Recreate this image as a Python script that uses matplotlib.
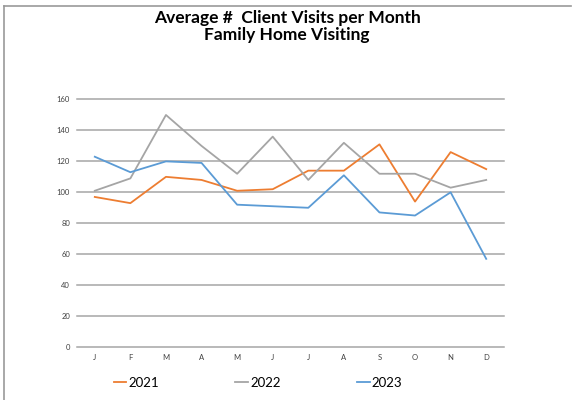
import matplotlib
matplotlib.use("Agg")
import matplotlib.pyplot as plt
from matplotlib.lines import Line2D

months = ["J", "F", "M", "A", "M", "J", "J", "A", "S", "O", "N", "D"]
visits_2021 = [97, 93, 110, 108, 101, 102, 114, 114, 131, 94, 126, 115]
visits_2022 = [101, 109, 150, 130, 112, 136, 108, 132, 112, 112, 103, 108]
visits_2023 = [123, 113, 120, 119, 92, 91, 90, 111, 87, 85, 100, 57]
y_ticks = [0, 20, 40, 60, 80, 100, 120, 140, 160]

plt.rcParams['font.family'] = ['Lato', 'DejaVu Sans']

fig = plt.figure(figsize=(5.72, 4.0), dpi=100)
ax = fig.add_axes([77 / 572, 1 - 347 / 400, 427 / 572, 247.5 / 400])

x = list(range(len(months)))
ax.plot(x, visits_2021, color="#ED7D31", lw=1.3, label="2021")
ax.plot(x, visits_2022, color="#A5A5A5", lw=1.3, label="2022")
ax.plot(x, visits_2023, color="#5B9BD5", lw=1.3, label="2023")

ax.set_xlim(-0.5, len(months) - 0.5)
ax.set_ylim(0, 160)
ax.set_xticks(x)
ax.set_xticklabels(months)
ax.set_yticks(y_ticks)
ax.tick_params(length=0, labelsize=5.5, colors="#404040", pad=5)
ax.grid(axis="y", color="#a6a6a6", lw=1.1)
for gl in ax.yaxis.get_gridlines():
    gl.set_clip_on(False)
ax.set_axisbelow(True)
for s in ax.spines.values():
    s.set_visible(False)

fig.text(0.502, 0.955, "Average #  Client Visits per Month", ha="center", va="center",
         fontsize=12.5, fontweight="bold", color="#000000")
fig.text(0.502, 0.912, "Family Home Visiting", ha="center", va="center",
         fontsize=12.5, fontweight="bold", color="#000000")

fig.legend(loc="center", bbox_to_anchor=(258 / 572, 1 - 383 / 400), ncol=3,
           frameon=False, fontsize=9.5, handlelength=0.95, handletextpad=0.15,
           columnspacing=5.8)

# outer frame (top and left edges only)
fig.add_artist(Line2D([4 / 572, 571 / 572], [1 - 6 / 400, 1 - 6 / 400], color="#999999", lw=1.2))
fig.add_artist(Line2D([4 / 572, 4 / 572], [0, 1 - 6 / 400], color="#999999", lw=1.2))

fig.savefig("out.png", dpi=100)
